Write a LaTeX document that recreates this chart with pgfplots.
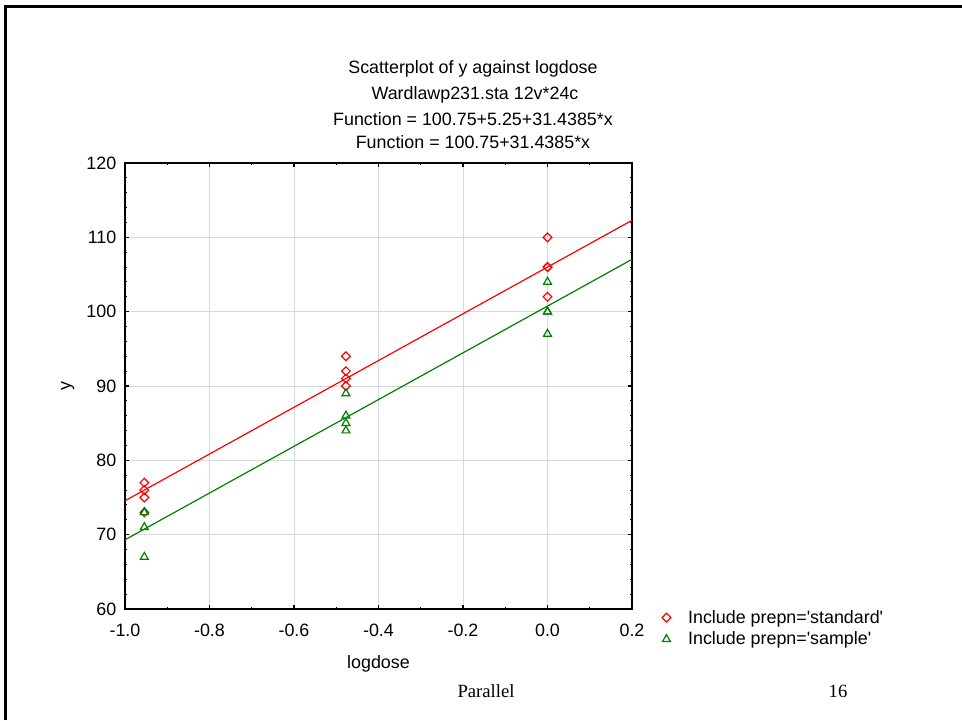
\documentclass[border=0pt]{standalone}
\usepackage{fontspec}
\setmainfont{Liberation Sans}
\newfontfamily\timesfont{Liberation Serif}
\usepackage{pgfplots}
\pgfplotsset{compat=1.18}
\definecolor{sred}{RGB}{255,0,0}
\definecolor{sgreen}{RGB}{0,128,0}
\pgfplotstableread{
x y
-0.95424 77
-0.95424 76
-0.95424 75
-0.95424 73
-0.47712 94
-0.47712 92
-0.47712 91
-0.47712 90
0 110
0 106
0 106
0 102
}\standard
\pgfplotstableread{
x y
-0.95424 73
-0.95424 73
-0.95424 71
-0.95424 67
-0.47712 89
-0.47712 86
-0.47712 85
-0.47712 84
0 104
0 100
0 100
0 97
}\sample
\newcommand{\tf}{\fontsize{13.4}{16}\selectfont}
\begin{document}
\begin{tikzpicture}[x=0.75pt,y=0.75pt]
\useasboundingbox (0,0) rectangle (962,720);
\draw[line width=2pt] (5.5,0) -- (5.5,713.5) -- (962,713.5);
\node[font=\tf] at (473,651) {Scatterplot of y against logdose};
\node[font=\tf] at (475,625) {Wardlawp231.sta 12v*24c};
\node[font=\tf] at (473,601) {Function = 100.75+5.25+31.4385*x};
\node[font=\tf] at (473,578) {Function = 100.75+31.4385*x};
\node[font=\timesfont\fontsize{14}{16}\selectfont] at (486,29) {Parallel};
\node[font=\timesfont\fontsize{14}{16}\selectfont] at (838,29) {16};
\begin{axis}[
  at={(93.75pt,83.25pt)}, anchor=south west,
  width=380.25pt, height=334.5pt, scale only axis,
  xmin=-1, xmax=0.2, ymin=60, ymax=120,
  xtick={-1,-0.8,-0.6,-0.4,-0.2,0,0.2},
  ytick={60,70,80,90,100,110,120},
  minor x tick num=1, minor y tick num=4,
  tick align=inside, major tick length=3pt, minor tick length=1.8pt,
  tick style={black, line width=0.8pt},
  axis line style={black, line width=1.1pt},
  grid=major, major grid style={black!15, line width=0.6pt},
  ticklabel style={font=\tf},
  /pgf/number format/assume math mode=true,
  xticklabel style={yshift=-7.5pt, /pgf/number format/.cd, fixed, fixed zerofill, precision=1},
  yticklabel style={xshift=-3pt, /pgf/number format/.cd, fixed, precision=0},
  xlabel={logdose}, ylabel={y},
  xlabel style={yshift=-7.5pt},
  ylabel style={yshift=2.25pt},
  label style={font=\tf},
  legend style={at={(1.051,0.01)}, anchor=north west, draw=none, fill=none, font=\tf,
    row sep=1pt, column sep=11pt},
  legend cell align=left,
]
\addplot[only marks, mark=square, mark size=2.3pt, mark options={rotate=45, draw=sred, line width=0.9pt}] table[x=x,y=y] {\standard};
\addlegendentry{Include prepn=\textquotesingle standard\textquotesingle}
\addplot[only marks, mark=triangle, mark size=3.4pt, mark options={draw=sgreen, line width=0.9pt}] table[x=x,y=y] {\sample};
\addlegendentry{Include prepn=\textquotesingle sample\textquotesingle}
\addplot[sred, line width=0.9pt, forget plot] coordinates {(-1,74.5615) (0.2,112.2877)};
\addplot[sgreen, line width=0.9pt, forget plot] coordinates {(-1,69.3115) (0.2,107.0377)};
\end{axis}
\end{tikzpicture}
\end{document}
